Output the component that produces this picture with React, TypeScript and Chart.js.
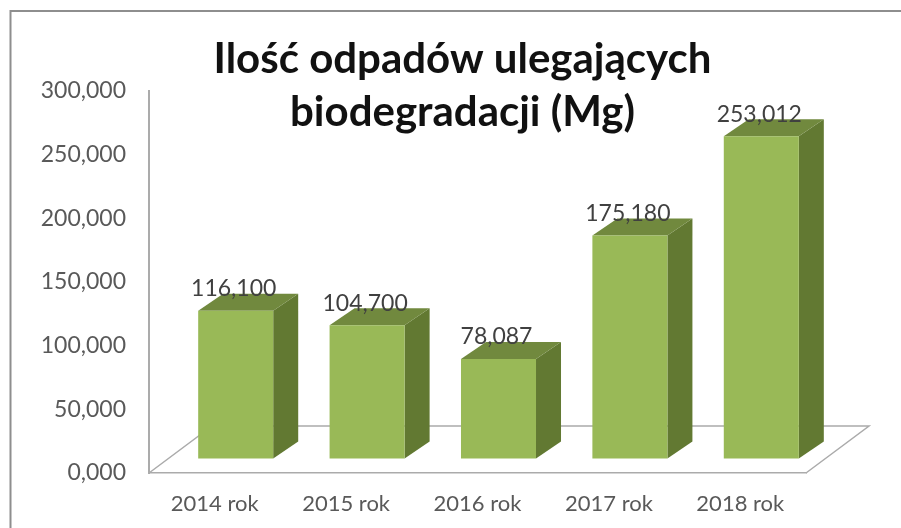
import React, { useEffect, useRef } from "react";
import { Chart, registerables } from "chart.js";

Chart.register(...registerables);

const categories = ["2014 rok", "2015 rok", "2016 rok", "2017 rok", "2018 rok"];
const wasteMg = [116.1, 104.7, 78.087, 175.18, 253.012];
const titleLines = ["Ilość odpadów ulegających", "biodegradacji (Mg)"];

const FONT = "Lato, 'Noto Sans', sans-serif";
const fmt = (v: number) => v.toFixed(3).replace(".", ",");

const FRONT = "#99B957";
const SIDE = "#627932";
const TOP = "#71893E";
const AXIS = "#ABABAB";

const bar3d: any = {
  id: "bar3d",
  afterLayout(chart: any) {
    // the title is centred a little right of the canvas centre
    if (chart.titleBlock) {
      chart.titleBlock.left = 24;
      chart.titleBlock.right = 901;
    }
  },
  beforeDraw(chart: any) {
    const { ctx, width, height } = chart;
    ctx.save();
    ctx.fillStyle = "#FFFFFF";
    ctx.fillRect(0, 0, width, height);
    ctx.strokeStyle = "#8E8E8E";
    ctx.lineWidth = 2;
    ctx.beginPath();
    ctx.moveTo(10.5, height);
    ctx.lineTo(10.5, 11);
    ctx.lineTo(width, 11);
    ctx.stroke();
    ctx.restore();
  },
  beforeDatasetsDraw(chart: any) {
    const { ctx, chartArea: a } = chart;
    // floor of the 3D box
    ctx.save();
    ctx.strokeStyle = AXIS;
    ctx.lineWidth = 1.5;
    ctx.beginPath();
    ctx.moveTo(a.left, a.bottom);
    ctx.lineTo(a.left + 63, a.bottom - 47);
    ctx.lineTo(a.right + 63, a.bottom - 47);
    ctx.lineTo(a.right, a.bottom);
    ctx.stroke();
    ctx.restore();

    ctx.save();
    ctx.translate(21, -14.5);
    const dx = 25;
    const dy = 17;
    chart.getDatasetMeta(0).data.forEach((b: any) => {
      const p = b.getProps(["x", "y", "base", "width"], true);
      const l = p.x - p.width / 2;
      const r = p.x + p.width / 2;
      ctx.fillStyle = SIDE;
      ctx.beginPath();
      ctx.moveTo(r, p.y);
      ctx.lineTo(r + dx, p.y - dy);
      ctx.lineTo(r + dx, p.base - dy);
      ctx.lineTo(r, p.base);
      ctx.closePath();
      ctx.fill();
      ctx.fillStyle = TOP;
      ctx.beginPath();
      ctx.moveTo(l, p.y);
      ctx.lineTo(l + dx, p.y - dy);
      ctx.lineTo(r + dx, p.y - dy);
      ctx.lineTo(r, p.y);
      ctx.closePath();
      ctx.fill();
    });
  },
  afterDatasetsDraw(chart: any) {
    const { ctx } = chart;
    ctx.font = `23px ${FONT}`;
    ctx.fillStyle = "#404040";
    ctx.textAlign = "center";
    ctx.textBaseline = "middle";
    chart.getDatasetMeta(0).data.forEach((b: any, i: number) => {
      const p = b.getProps(["x", "y"], true);
      ctx.fillText(fmt(wasteMg[i]), p.x - 2, p.y - 22);
    });
    ctx.restore();
  },
};

export default function App() {
  const ref = useRef<HTMLCanvasElement>(null);
  useEffect(() => {
    document.body.style.margin = "0";
    const chart = new Chart(ref.current as HTMLCanvasElement, {
      type: "bar",
      data: {
        labels: categories,
        datasets: [
          {
            data: wasteMg,
            backgroundColor: FRONT,
            borderWidth: 0,
            barPercentage: 0.571,
            categoryPercentage: 1,
            clip: false,
          } as any,
        ],
      },
      options: {
        responsive: false,
        animation: false,
        layout: { padding: { left: 0, right: 95, top: 0, bottom: 0 } },
        plugins: {
          legend: { display: false },
          tooltip: { enabled: false },
          title: {
            display: true,
            text: titleLines,
            color: "#111111",
            font: { family: FONT, size: 42, weight: "bold", lineHeight: 1.262 },
            padding: { top: 33, bottom: -48 },
          },
        },
        scales: {
          x: {
            grid: { display: false, drawTicks: false },
            border: { color: AXIS, width: 1.5 },
            ticks: { color: "#595959", font: { family: FONT, size: 22 }, padding: 18, maxRotation: 0, autoSkip: false },
            afterFit: (s: any) => {
              s.height = 55;
            },
          },
          y: {
            min: 0,
            max: 300,
            grid: { display: false, drawTicks: false },
            border: { color: AXIS, width: 2 },
            ticks: {
              stepSize: 50,
              color: "#595959",
              font: { family: FONT, size: 23 },
              padding: 23,
              callback: (v: any) => fmt(Number(v)),
            },
            afterFit: (s: any) => {
              s.width = 149;
            },
          },
        },
      },
      plugins: [bar3d],
    } as any);
    return () => chart.destroy();
  }, []);
  return <canvas ref={ref} width={901} height={528} style={{ display: "block", filter: "blur(0.5px)" }} />;
}
